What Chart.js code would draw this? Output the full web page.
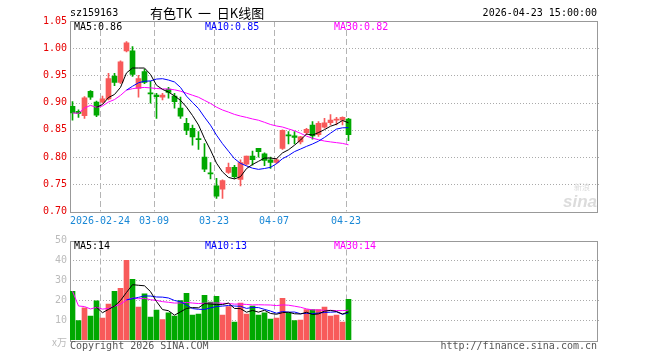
<!DOCTYPE html>
<html>
<head>
<meta charset="utf-8">
<script src="https://cdn.jsdelivr.net/npm/chart.js@4.4.1/dist/chart.umd.min.js"></script>
<style>
  body { margin: 0; background: #fff; }
  #wrap { position: relative; width: 660px; height: 360px; }
  #kline { position: absolute; left: 0; top: 0; }
  #vol { position: absolute; left: 0; top: 230px; }
</style>
</head>
<body>
<div id="wrap">
  <canvas id="kline" width="660" height="230"></canvas>
  <canvas id="vol" width="660" height="130"></canvas>
</div>
<script>
// trading days (2026)
var dates = ['02-09','02-10','02-11','02-12','02-13','02-24','02-25','02-26','02-27','03-02',
             '03-03','03-04','03-05','03-06','03-09','03-10','03-11','03-12','03-13','03-16',
             '03-17','03-18','03-19','03-20','03-23','03-24','03-25','03-26','03-27','03-30',
             '03-31','04-01','04-02','04-03','04-07','04-08','04-09','04-10','04-13','04-14',
             '04-15','04-16','04-17','04-20','04-21','04-22','04-23'];

var openPx  = [0.893,0.884,0.876,0.921,0.901,0.901,0.907,0.949,0.937,0.995,
               0.995,0.926,0.957,0.918,0.914,0.910,0.925,0.912,0.890,0.862,
               0.853,0.834,0.800,0.771,0.747,0.741,0.772,0.781,0.759,0.787,
               0.802,0.816,0.806,0.795,0.790,0.816,0.841,0.839,0.828,0.845,
               0.859,0.841,0.855,0.863,0.868,0.868,0.870];
var highPx  = [0.902,0.887,0.911,0.922,0.903,0.912,0.954,0.954,0.977,1.012,
               1.003,0.950,0.961,0.939,0.917,0.917,0.928,0.917,0.910,0.871,
               0.859,0.847,0.825,0.790,0.761,0.758,0.789,0.785,0.795,0.802,
               0.811,0.816,0.808,0.800,0.797,0.850,0.847,0.847,0.838,0.853,
               0.865,0.865,0.871,0.878,0.873,0.874,0.871];
var lowPx   = [0.868,0.873,0.871,0.906,0.874,0.899,0.905,0.931,0.935,0.993,
               0.948,0.910,0.935,0.899,0.871,0.905,0.908,0.890,0.871,0.841,
               0.822,0.814,0.773,0.760,0.724,0.724,0.770,0.761,0.747,0.785,
               0.785,0.800,0.784,0.779,0.788,0.814,0.824,0.824,0.824,0.841,
               0.833,0.838,0.853,0.859,0.859,0.859,0.830];
var closePx = [0.881,0.880,0.909,0.910,0.877,0.907,0.944,0.937,0.975,1.010,
               0.952,0.944,0.937,0.916,0.911,0.914,0.919,0.902,0.875,0.849,
               0.837,0.832,0.778,0.769,0.728,0.757,0.781,0.764,0.790,0.802,
               0.795,0.810,0.794,0.790,0.795,0.849,0.839,0.836,0.837,0.851,
               0.839,0.862,0.863,0.868,0.870,0.873,0.841];
// volume, x10k
var volume  = [24.5,9.7,16.2,12,19.7,11,18,24.5,26,40,
               30.5,16.5,23.2,11.5,15,10.2,13.7,12,19.8,23.5,
               12.5,13,22.5,19,22,12.5,16.8,9,18.5,13,
               17,12.5,13.7,10.5,11,21,13.7,9.7,10,15.3,
               15.3,15.3,16.5,12,12.5,9,20.5];

var tickDates  = ['02-24','03-09','03-23','04-07','04-23'];
var tickLabels = ['2026-02-24','03-09','03-23','04-07','04-23'];
var priceTicks = [0.70,0.75,0.80,0.85,0.90,0.95,1.00,1.05];
var volTicks   = [10,20,30,40,50];

var RED = '#f85a5a', GREEN = '#00a800';
var MONO = '"DejaVu Sans Mono", monospace';
var X_MIN = -2.5 / 6, X_MAX = 87.4167;   // 6px per trading day, room for ~88 days
var GRID_SHIFT = 2.5 / 6;                // grid line sits at the left edge of a candle

var tickIdx = tickDates.map(function (d) { return dates.indexOf(d); });
var upColor = closePx.map(function (c, i) { return c >= openPx[i] ? RED : GREEN; });

// moving average; MA30 uses whatever days exist so far
function movingAvg(arr, n, from) {
  var out = [];
  for (var i = from; i < arr.length; i++) {
    var s = Math.max(0, i - n + 1), sum = 0;
    for (var k = s; k <= i; k++) sum += arr[k];
    out.push({ x: i, y: sum / (i - s + 1) });
  }
  return out;
}

var pMA5 = movingAvg(closePx, 5, 4), pMA10 = movingAvg(closePx, 10, 9), pMA30 = movingAvg(closePx, 30, 0);
var vMA5 = movingAvg(volume, 5, 4), vMA10 = movingAvg(volume, 10, 9), vMA30 = movingAvg(volume, 30, 0);
function last(a) { return a[a.length - 1].y; }

Chart.defaults.font.family = MONO;
Chart.defaults.font.size = 10;

function lineSet(data, color) {
  return { type: 'line', data: data, borderColor: color, borderWidth: 1, pointRadius: 0, tension: 0, order: 0 };
}

// grid + frame, drawn under the marks
function gridPlugin(hLines) {
  return {
    id: 'grid',
    beforeDatasetsDraw: function (chart) {
      var ctx = chart.ctx, a = chart.chartArea, x = chart.scales.x, y = chart.scales.y;
      ctx.save();
      ctx.lineWidth = 1;
      ctx.strokeStyle = '#aaa';
      ctx.setLineDash([1, 2]);
      hLines.forEach(function (v) {
        var py = Math.round(y.getPixelForValue(v)) + 0.5;
        ctx.beginPath(); ctx.moveTo(a.left, py); ctx.lineTo(a.right + 2, py); ctx.stroke();
      });
      ctx.strokeStyle = '#b4b4b4';
      ctx.setLineDash([6, 3]);
      tickIdx.forEach(function (i) {
        var px = Math.round(x.getPixelForValue(i - GRID_SHIFT)) + 0.5;
        ctx.beginPath(); ctx.moveTo(px, a.top); ctx.lineTo(px, a.bottom); ctx.stroke();
      });
      ctx.setLineDash([]);
      ctx.strokeStyle = '#999';
      ctx.strokeRect(Math.round(a.left) + 0.5, Math.round(a.top) + 0.5,
                     Math.round(a.right - a.left), Math.round(a.bottom - a.top));
      ctx.restore();
    }
  };
}

function textPlugin(items) {
  return {
    id: 'texts',
    afterDraw: function (chart) {
      var ctx = chart.ctx;
      ctx.save();
      ctx.textBaseline = 'middle';
      items.forEach(function (t) {
        ctx.font = t.font || ('10px ' + MONO);
        ctx.fillStyle = t.color;
        ctx.textAlign = t.align || 'left';
        ctx.fillText(t.text, t.x, t.y);
      });
      ctx.restore();
    }
  };
}

var watermark = {
  id: 'watermark',
  beforeDatasetsDraw: function (chart) {
    var ctx = chart.ctx;
    ctx.save();
    ctx.fillStyle = '#dcdcdc';
    ctx.font = 'italic bold 17px "Liberation Sans", sans-serif';
    ctx.textAlign = 'right';
    ctx.textBaseline = 'alphabetic';
    ctx.fillText('sina', 597, 207);
    ctx.font = '8px "Noto Sans CJK SC"';
    ctx.fillText('新浪', 590, 190);
    ctx.restore();
  }
};

// ---------- price chart ----------
new Chart(document.getElementById('kline'), {
  type: 'bar',
  data: {
    datasets: [
      lineSet(pMA5, '#000000'),
      lineSet(pMA10, '#0000ff'),
      lineSet(pMA30, '#ff00ff'),
      { type: 'bar', order: 1, grouped: false, barThickness: 5, minBarLength: 1,
        data: openPx.map(function (o, i) { return { x: i, y: [o, closePx[i]] }; }),
        backgroundColor: upColor, borderWidth: 0 },
      { type: 'bar', order: 2, grouped: false, barThickness: 1,
        data: lowPx.map(function (l, i) { return { x: i, y: [l, highPx[i]] }; }),
        backgroundColor: upColor, borderWidth: 0 }
    ]
  },
  options: {
    responsive: false, animation: false, events: [],
    layout: { padding: { top: 21, right: 63, bottom: 0, left: 0 } },
    plugins: { legend: { display: false }, tooltip: { enabled: false } },
    scales: {
      x: {
        type: 'linear', min: X_MIN, max: X_MAX, offset: false,
        grid: { display: false, drawTicks: false }, border: { display: false },
        afterBuildTicks: function (ax) { ax.ticks = tickIdx.map(function (i) { return { value: i - GRID_SHIFT }; }); },
        afterFit: function (ax) { ax.height = 18.5; },
        ticks: { autoSkip: false, maxRotation: 0, padding: 4, color: '#1a88d6',
                 callback: function (v, k) { return tickLabels[k]; } }
      },
      y: {
        min: 0.70, max: 1.05,
        grid: { display: false, drawTicks: false }, border: { display: false },
        afterBuildTicks: function (ax) { ax.ticks = priceTicks.map(function (v) { return { value: v }; }); },
        afterFit: function (ax) { ax.width = 70; },
        ticks: { padding: 3, color: '#e60000', callback: function (v) { return v.toFixed(2); } }
      }
    }
  },
  plugins: [gridPlugin(priceTicks.slice(1, -1)), watermark, textPlugin([
    { text: 'sz159163', x: 70, y: 13, color: '#000' },
    { text: '有色TK  一  日K线图', x: 150, y: 13, color: '#000', font: '13px "Noto Sans CJK SC"' },
    { text: '2026-04-23 15:00:00', x: 597, y: 13, color: '#000', align: 'right' },
    { text: 'MA5:' + last(pMA5).toFixed(2), x: 74, y: 27, color: '#000' },
    { text: 'MA10:' + last(pMA10).toFixed(2), x: 205, y: 27, color: '#0000ff' },
    { text: 'MA30:' + last(pMA30).toFixed(2), x: 334, y: 27, color: '#ff00ff' }
  ])]
});

// ---------- volume chart ----------
new Chart(document.getElementById('vol'), {
  type: 'bar',
  data: {
    datasets: [
      lineSet(vMA5, '#000000'),
      lineSet(vMA10, '#0000ff'),
      lineSet(vMA30, '#ff00ff'),
      { type: 'bar', order: 1, grouped: false, barThickness: 5,
        data: volume.map(function (v, i) { return { x: i, y: v }; }),
        backgroundColor: upColor, borderWidth: 0 }
    ]
  },
  options: {
    responsive: false, animation: false, events: [],
    layout: { padding: { top: 10.5, right: 63, bottom: 20, left: 0 } },
    plugins: { legend: { display: false }, tooltip: { enabled: false } },
    scales: {
      x: { type: 'linear', min: X_MIN, max: X_MAX, offset: false, display: false },
      y: {
        min: 0, max: 50,
        grid: { display: false, drawTicks: false }, border: { display: false },
        afterBuildTicks: function (ax) { ax.ticks = volTicks.map(function (v) { return { value: v }; }); },
        afterFit: function (ax) { ax.width = 70; },
        ticks: { padding: 3, color: '#bbb' }
      }
    }
  },
  plugins: [gridPlugin(volTicks.slice(0, -1)), textPlugin([
    { text: 'MA5:' + Math.floor(last(vMA5)), x: 74, y: 16, color: '#000' },
    { text: 'MA10:' + Math.floor(last(vMA10)), x: 205, y: 16, color: '#0000ff' },
    { text: 'MA30:' + Math.floor(last(vMA30)), x: 334, y: 16, color: '#ff00ff' },
    { text: 'x万', x: 67, y: 112, color: '#bbb', align: 'right', font: '10px "Noto Sans CJK SC"' },
    { text: 'Copyright 2026 SINA.COM', x: 70, y: 116, color: '#555' },
    { text: 'http://finance.sina.com.cn', x: 597, y: 116, color: '#555', align: 'right' }
  ])]
});
</script>
</body>
</html>
